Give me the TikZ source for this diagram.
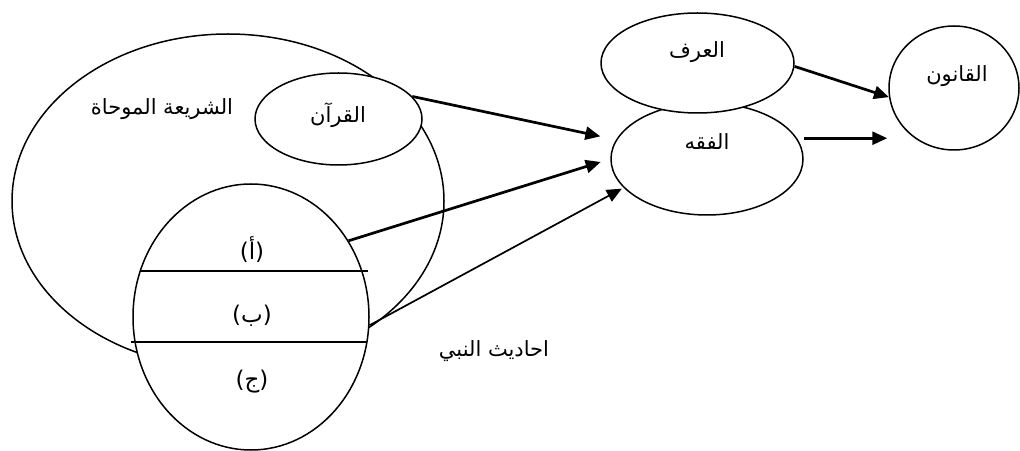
\documentclass[tikz,border=0pt]{standalone}
\usepackage{fontspec}
\usetikzlibrary{shapes.geometric,arrows.meta}
\TeXXeTstate=1
\newfontfamily\arabicfont[Script=Arabic]{DejaVu Sans}
\tikzset{
  oval/.style={draw=black, line width=1.5pt, fill=white, ellipse, inner sep=0pt},
  lbl/.style={font=\arabicfont\fontsize{21}{25}\selectfont, inner sep=0pt},
  biglbl/.style={font=\arabicfont\fontsize{23}{27}\selectfont, inner sep=0pt},
  arr/.style={line width=2.7pt, -{Triangle[length=15pt,width=13pt]}},
  thinarr/.style={line width=1.7pt, -{Triangle[length=15pt,width=13pt]}},
  divline/.style={line width=1.7pt}
}
\begin{document}
\begin{tikzpicture}[x=1pt,y=1pt]
\useasboundingbox (0,0) rectangle (1020,450);
% left group
\node[oval, minimum width=432pt, minimum height=334pt] (big) at (228,249) {};
\node[oval, minimum width=167pt, minimum height=92pt] (quran) at (338.5,331) {};
\node[oval, minimum width=236pt, minimum height=266pt] (hadith) at (251,133) {};
\coordinate (l1a) at (140,179);
\coordinate (l1b) at (368,179);
\coordinate (l2a) at (131,108);
\coordinate (l2b) at (367,108);
\draw[divline] (l1a) -- (l1b);
\draw[divline] (l2a) -- (l2b);
\node[lbl] (tshariah) at (162,341) {\beginR الشريعة الموحاة\endR};
\node[lbl] (tquran) at (338,335) {\beginR القرآن\endR};
\node[biglbl] (ta) at (252,200) {\beginR (أ)\endR};
\node[biglbl] (tb) at (252,134) {\beginR (ب)\endR};
\node[biglbl] (tc) at (252,68) {\beginR (ج)\endR};
\node[lbl] (thadith) at (494,99) {\beginR احاديث النبي\endR};
% right group
\node[oval, minimum width=192pt, minimum height=112pt] (fiqh) at (707,291) {};
\node[oval, minimum width=193pt, minimum height=100pt] (urf) at (697.5,387) {};
\node[oval, minimum width=130pt, minimum height=124pt] (qanun) at (954,362) {};
\node[lbl] (turf) at (697,398) {\beginR العرف\endR};
\node[lbl] (tfiqh) at (707,308) {\beginR الفقه\endR};
\node[lbl] (tqanun) at (957,374) {\beginR القانون\endR};
% arrows
\draw[arr, shorten >=16pt] (quran.17) -- (fiqh.168);
\draw[arr, shorten >=10pt] (hadith.38) -- (fiqh.west);
\draw[thinarr, shorten >=2pt] (hadith.-4) -- (fiqh.199);
\draw[arr] (urf.-2) -- (qanun.188);
\draw[arr, shorten <=7pt, shorten >=1pt] (fiqh.13) -- (fiqh.13 -| qanun.west);
\end{tikzpicture}
\end{document}
